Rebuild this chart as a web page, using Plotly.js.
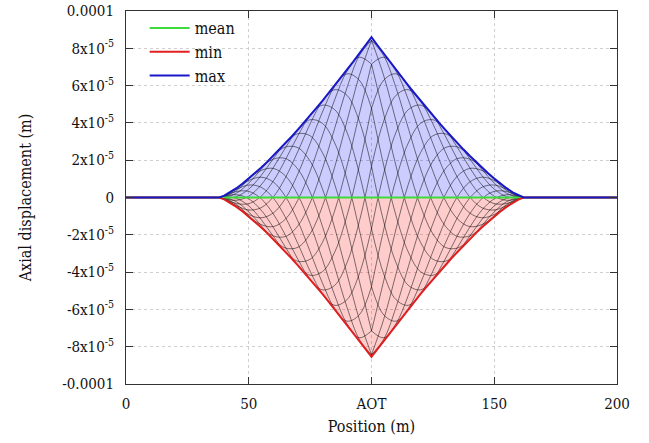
<!DOCTYPE html>
<html>
<head>
<meta charset="utf-8">
<script src="https://cdn.plot.ly/plotly-3.0.1.min.js"></script>
<style>html,body{margin:0;padding:0;background:#fff;}#chart{width:649px;height:443px;}</style>
</head>
<body>
<div id="chart"></div>
<script>
// ---- data (displacements in units of 1e-5 m) ----
const SCALE = 1e-5;
const AOT = 100;                 // position of AOT on the x axis (m)
const xStart = 0, xEnd = 200;

// envelope: distance from AOT (m) and max / min displacement
const envD   = [0, 2.5, 5, 7.5, 10, 12.5, 15, 17.5, 20, 22.5, 25, 27.5, 30, 32.5, 35, 37.5, 40, 42.5, 45, 47.5, 50, 52.5, 55, 57.5, 60, 62];
const envMax = [8.60, 8.15, 7.71, 7.27, 6.84, 6.42, 6.00, 5.59, 5.18, 4.79, 4.40, 4.01, 3.64, 3.27, 2.92, 2.57, 2.24, 1.91, 1.60, 1.30, 1.02, 0.75, 0.50, 0.28, 0.10, 0];
const envMin = [-8.55, -8.12, -7.69, -7.26, -6.83, -6.41, -5.99, -5.58, -5.17, -4.78, -4.39, -4.01, -3.64, -3.27, -2.92, -2.57, -2.24, -1.91, -1.60, -1.30, -1.02, -0.75, -0.50, -0.28, -0.10, 0];

// mean displacement
const meanX = [0, 200];
const meanY = [0, 0];

// snapshot profiles (half profiles, symmetric about AOT), distance from AOT (m)
const latD = [0, 5, 10, 15, 20, 25, 30, 35, 40, 45, 50, 55, 60, 62];
const snapshots = [
  [ 8.43,  7.60,  5.88,  3.71,  1.54, -0.29, -1.52, -2.09, -2.06, -1.60, -0.97, -0.38, -0.05, 0],
  [ 7.15,  7.52,  6.77,  5.24,  3.31,  1.41, -0.14, -1.15, -1.56, -1.45, -1.02, -0.48, -0.08, 0],
  [ 4.78,  6.30,  6.63,  5.96,  4.58,  2.90,  1.26, -0.04, -0.83, -1.09, -0.91, -0.50, -0.10, 0],
  [ 1.68,  4.11,  5.48,  5.78,  5.16,  3.95,  2.47,  1.08,  0.03, -0.55, -0.67, -0.44, -0.10, 0],
  [-1.68,  1.31,  3.50,  4.71,  4.95,  4.39,  3.31,  2.04,  0.88,  0.06, -0.33, -0.32, -0.09, 0],
  [-4.78, -1.70,  0.98,  2.93,  3.98,  4.17,  3.64,  2.68,  1.60,  0.67,  0.07, -0.15, -0.06, 0],
  [-7.15, -4.45, -1.68,  0.71,  2.41,  3.31,  3.42,  2.92,  2.08,  1.17,  0.45,  0.05, -0.03, 0],
  [-8.43, -6.52, -4.09, -1.63,  0.47,  1.95,  2.67,  2.71,  2.24,  1.50,  0.77,  0.23,  0.01, 0],
  [-8.43, -7.60, -5.88, -3.71, -1.54,  0.29,  1.52,  2.09,  2.06,  1.60,  0.97,  0.38,  0.05, 0],
  [-7.15, -7.52, -6.77, -5.24, -3.31, -1.41,  0.14,  1.15,  1.56,  1.45,  1.02,  0.48,  0.08, 0],
  [-4.78, -6.30, -6.63, -5.96, -4.58, -2.90, -1.26,  0.04,  0.83,  1.09,  0.91,  0.50,  0.10, 0],
  [-1.68, -4.11, -5.48, -5.78, -5.16, -3.95, -2.47, -1.08, -0.03,  0.55,  0.67,  0.44,  0.10, 0],
  [ 1.68, -1.31, -3.50, -4.71, -4.95, -4.39, -3.31, -2.04, -0.88, -0.06,  0.33,  0.32,  0.09, 0],
  [ 4.78,  1.70, -0.98, -2.93, -3.98, -4.17, -3.64, -2.68, -1.60, -0.67, -0.07,  0.15,  0.06, 0],
  [ 7.15,  4.45,  1.68, -0.71, -2.41, -3.31, -3.42, -2.92, -2.08, -1.17, -0.45, -0.05,  0.03, 0],
  [ 8.43,  6.52,  4.09,  1.63, -0.47, -1.95, -2.67, -2.71, -2.24, -1.50, -0.77, -0.23, -0.01, 0]
];

// axis ticks
const xTickVals = [0, 50, 100, 150, 200];
const xTickText = ['0', '50', 'AOT', '150', '200'];
const yTickVals = [1e-4, 8e-5, 6e-5, 4e-5, 2e-5, 0, -2e-5, -4e-5, -6e-5, -8e-5, -1e-4];
const yTickText = ['0.0001', '8x10<sup>-5</sup>', '6x10<sup>-5</sup>', '4x10<sup>-5</sup>', '2x10<sup>-5</sup>', '0',
                   '-2x10<sup>-5</sup>', '-4x10<sup>-5</sup>', '-6x10<sup>-5</sup>', '-8x10<sup>-5</sup>', '-0.0001'];

// ---- build traces ----
function envelope(vals) {
  const x = [xStart].concat(envD.slice().reverse().map(d => AOT - d), envD.slice(1).map(d => AOT + d), [xEnd]);
  const y = [0].concat(vals.slice().reverse(), vals.slice(1), [0]).map(v => v * SCALE);
  return {x, y};
}
const eMax = envelope(envMax);
const eMin = envelope(envMin);

const latX = [], latY = [];
snapshots.forEach(c => {
  [-1, 1].forEach(side => {
    latD.forEach((d, i) => { latX.push(AOT + side * d); latY.push(c[i] * SCALE); });
    latX.push(null); latY.push(null);
  });
});

const FONT = 'DejaVu Serif Condensed';
const TXT = '#111';
const traces = [
  {x: eMax.x, y: eMax.y, mode: 'lines', fill: 'tozeroy', fillcolor: 'rgba(0,0,255,0.2)',
   line: {width: 0}, showlegend: false, hoverinfo: 'skip'},
  {x: eMin.x, y: eMin.y, mode: 'lines', fill: 'tozeroy', fillcolor: 'rgba(255,0,0,0.2)',
   line: {width: 0}, showlegend: false, hoverinfo: 'skip'},
  {x: latX, y: latY, mode: 'lines', connectgaps: false,
   line: {color: 'rgba(0,0,0,0.5)', width: 1, shape: 'spline', smoothing: 1},
   showlegend: false, hoverinfo: 'skip'},
  {x: meanX, y: meanY, mode: 'lines', name: 'mean', legendgroup: 'a',
   line: {color: '#3cdc3c', width: 2}},
  {x: eMin.x, y: eMin.y, mode: 'lines', name: 'min', legendgroup: 'b',
   line: {color: '#e02020', width: 2}},
  {x: eMax.x, y: eMax.y, mode: 'lines', name: 'max', legendgroup: 'c',
   line: {color: '#1818c8', width: 2}}
];

const axisCommon = {
  showline: true, mirror: 'ticks', linecolor: '#333', linewidth: 1,
  ticks: 'inside', ticklen: 7, tickcolor: '#333', tickwidth: 1,
  showgrid: true, gridcolor: '#cfcfcf', griddash: 'dot', gridwidth: 1,
  zeroline: false, tickfont: {family: FONT, size: 15, color: TXT}
};

const layout = {
  width: 649, height: 443,
  margin: {l: 126, r: 32, t: 11, b: 59},
  paper_bgcolor: '#fff', plot_bgcolor: '#fff',
  font: {family: FONT, size: 15, color: TXT},
  showlegend: true,
  legend: {x: 0.038, y: 1.0, xanchor: 'left', yanchor: 'top', bgcolor: 'rgba(0,0,0,0)',
           itemwidth: 40,
           font: {family: FONT, size: 16, color: TXT}, tracegroupgap: 9, traceorder: 'normal'},
  xaxis: Object.assign({}, axisCommon, {
    range: [xStart, xEnd], tickvals: xTickVals, ticktext: xTickText, ticklabelstandoff: 6,
    title: {text: 'Position (m)', font: {family: FONT, size: 16, color: TXT}, standoff: 8}
  }),
  yaxis: Object.assign({}, axisCommon, {
    range: [-1e-4, 1e-4], tickvals: yTickVals, ticktext: yTickText, ticklabelstandoff: 8,
    title: {text: 'Axial displacement (m)', font: {family: FONT, size: 16, color: TXT}, standoff: 26}
  })
};

Plotly.newPlot('chart', traces, layout, {staticPlot: true, displayModeBar: false});
</script>
</body>
</html>
